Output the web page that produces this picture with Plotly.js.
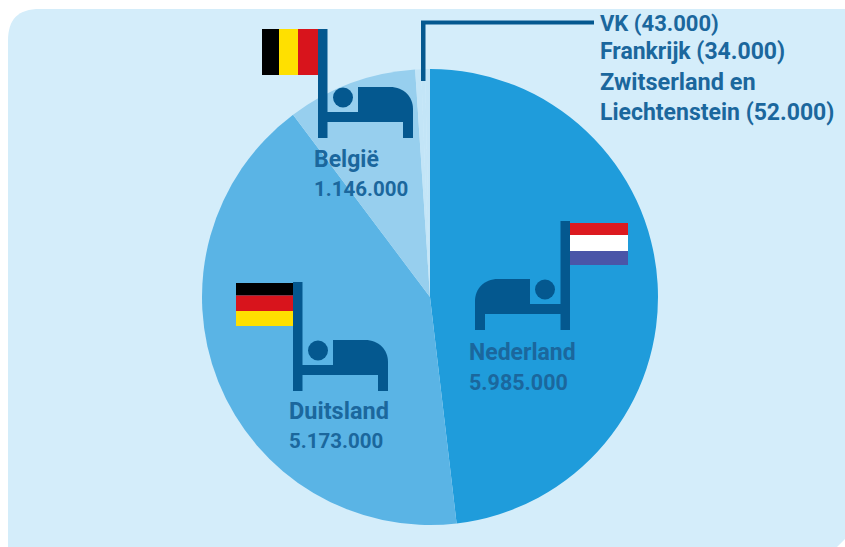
<!DOCTYPE html>
<html>
<head>
<meta charset="utf-8">
<script src="https://cdn.plot.ly/plotly-3.0.1.min.js"></script>
<style>html,body{margin:0;padding:0;background:#fff;overflow:hidden}#chart{width:845px;height:547px}</style>
</head>
<body>
<div id="chart"></div>
<script>
var countries = ['Nederland','Duitsland','België','Zwitserland en Liechtenstein','Frankrijk','VK'];
var visitors = [5985000,5173000,1146000,52000,34000,43000];
var sliceColors = ['#1f9cdb','#5ab4e5','#97cfee','#c3e5f7','#c3e5f7','#c3e5f7'];

var W = 845, H = 547;
var INK = '#04588f', TEXT = '#1b679d', PANEL = '#d4edfa';
function X(x){return x/W;}
function Y(y){return 1-y/H;}
function rect(x0,y0,x1,y1,color){
  return {type:'rect',xref:'paper',yref:'paper',x0:X(x0),x1:X(x1),y0:Y(y0),y1:Y(y1),
    fillcolor:color,line:{width:0},layer:'above'};
}
function pathShape(cmds,color,layer){
  var d = cmds.map(function(c){
    return c[0]+(c.length>1?c.slice(1).map(function(v,i){return i%2===0?X(v):Y(v);}).join(','):'');
  }).join(' ');
  return {type:'path',xref:'paper',yref:'paper',path:d,fillcolor:color,line:{width:0},layer:layer||'above'};
}
function circle(cx,cy,r,color){
  return {type:'circle',xref:'paper',yref:'paper',x0:X(cx-r),x1:X(cx+r),y0:Y(cy+r),y1:Y(cy-r),
    fillcolor:color,line:{width:0},layer:'above'};
}
/* bed icon: px = outer edge of post, top = top of post, dir = 1 post on the left, -1 mirrored */
function bed(px,top,dir){
  function fx(v){return dir===1?px+v:px-v;}
  var s = [];
  s.push(rect(Math.min(fx(0),fx(9.5)),top,Math.max(fx(0),fx(9.5)),top+109,INK));
  s.push(rect(Math.min(fx(0),fx(95)),top+83,Math.max(fx(0),fx(95)),top+93,INK));
  s.push(rect(Math.min(fx(85),fx(95)),top+83,Math.max(fx(85),fx(95)),top+109,INK));
  s.push(pathShape([
    ['M',fx(40),top+88],['L',fx(40),top+58],['L',fx(72),top+58],
    ['C',fx(86),top+58,fx(95),top+68,fx(95),top+80],['L',fx(95),top+90],['L',fx(40),top+90],['Z']
  ],INK));
  s.push(circle(fx(25),top+68.5,10,INK));
  return s;
}
function hStripes(x0,x1,edges,colors){
  return colors.map(function(c,i){return rect(x0,edges[i],x1,edges[i+1],c);});
}
function vStripes(edges,y0,y1,colors){
  return colors.map(function(c,i){return rect(edges[i],y0,edges[i+1],y1,c);});
}
function label(x,y,text,size){
  return {xref:'paper',yref:'paper',x:X(x-2),y:Y(y),text:text,showarrow:false,xanchor:'left',yanchor:'middle',
    align:'left',font:{family:'Roboto, sans-serif',size:size,color:TEXT,weight:700}};
}

var R = 32;
var panel = pathShape([
  ['M',8,547],['L',8,9+R],['C',8,19,18,9,8+R,9],
  ['L',845,9],['L',845,539],['L',837,547],['Z']
],PANEL,'below');

var shapes = [panel]
  .concat(bed(318,29,1))
  .concat(vStripes([262,279,298,318],29,75,['#000000','#ffe000','#d8141c']))
  .concat(bed(570,221,-1))
  .concat(hStripes(570,628,[223,235,251,265],['#dc1a20','#ffffff','#4a55a8']))
  .concat(bed(293,282,1))
  .concat(hStripes(236,293,[283,295.5,311,326],['#000000','#d8141c','#ffe000']));
/* leader line */
shapes.push(pathShape([
  ['M',421,81],['L',421,20.5],['L',594,20.5],['L',594,24.5],['L',425.5,24.5],['L',425.5,81],['Z']
],INK));

var annotations = [
  label(600,24,'VK (43.000)',22),
  label(600,52,'Frankrijk (34.000)',23),
  label(600,82,'Zwitserland en',23.5),
  label(600,113,'Liechtenstein (52.000)',23),
  label(314,160,'België',23),
  label(314,189,'1.146.000',20.5),
  label(469,352,'Nederland',23),
  label(469,382,'5.985.000',21.5),
  label(289,411,'Duitsland',23.5),
  label(289,441,'5.173.000',20.5)
];

var trace = {
  type:'pie',
  labels:countries,
  values:visitors,
  sort:false,
  direction:'clockwise',
  rotation:0,
  textinfo:'none',
  hoverinfo:'label+value',
  marker:{colors:sliceColors,line:{width:0}},
  domain:{x:[X(202),X(658)],y:[Y(525),Y(69)]}
};
var layout = {
  width:W,height:H,
  margin:{l:0,r:0,t:0,b:0,pad:0},
  paper_bgcolor:'#ffffff',
  showlegend:false,
  shapes:shapes,
  annotations:annotations
};
Plotly.newPlot('chart',[trace],layout,{displayModeBar:false});
</script>
</body>
</html>
